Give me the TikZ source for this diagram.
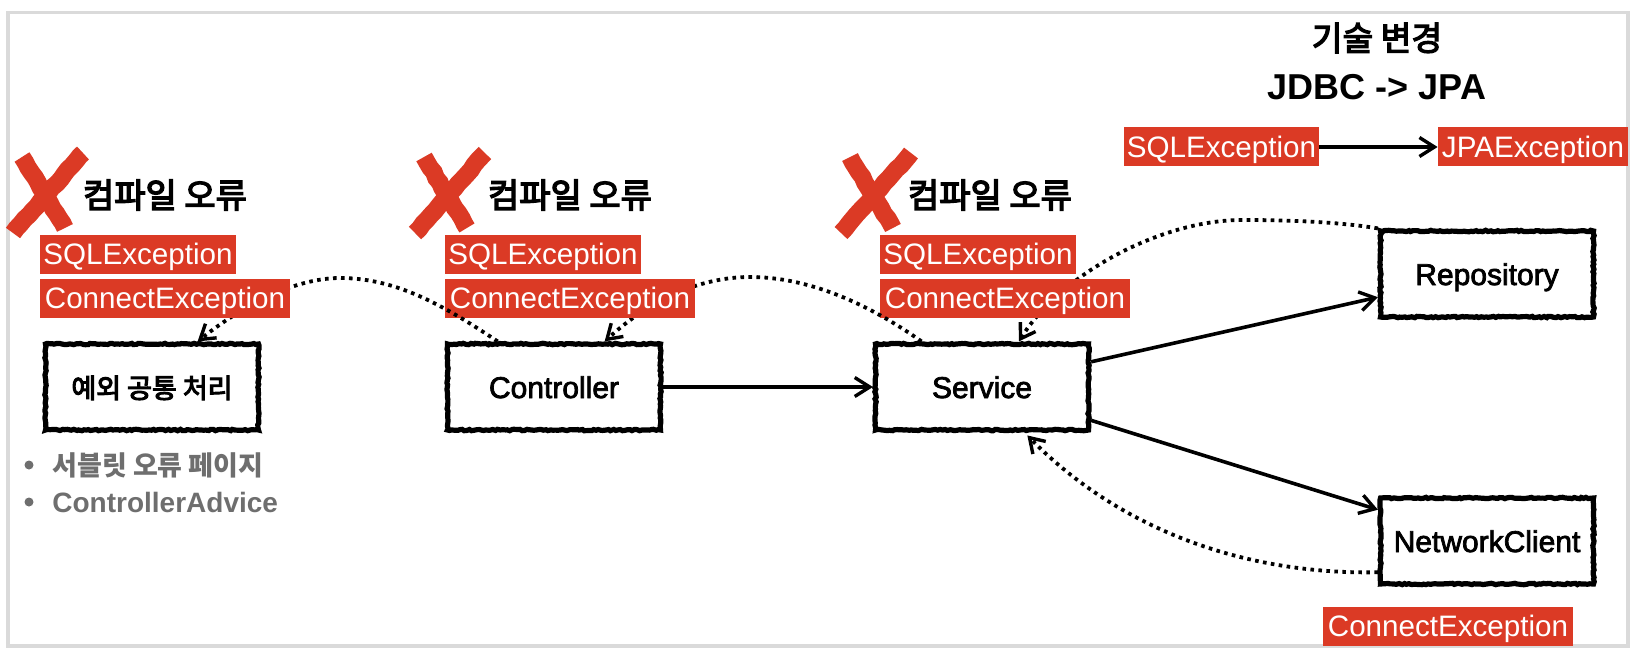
\documentclass[tikz,border=0pt]{standalone}
\usepackage{fontspec}
\setmainfont{Liberation Sans}
\newfontfamily\krfont{Noto Sans CJK KR}
\newfontfamily\krmedfont[FakeBold=4]{Noto Sans CJK KR}
\newfontfamily\boxfont[FakeBold=2.5]{Liberation Sans}
\usetikzlibrary{arrows.meta,decorations.pathmorphing}
\definecolor{tagred}{HTML}{DB3A25}
\definecolor{notegray}{HTML}{6E6E6E}
\definecolor{framegray}{HTML}{DADADA}
\tikzset{
  tag/.style={fill=tagred,text=white,inner xsep=0pt,inner ysep=0pt,minimum height=19.5pt,
    text height=12.1pt,text depth=1.7pt,font=\fontsize{14.8}{16}\selectfont},
  sketchbox/.style={draw=black,fill=white,line width=2.6pt,minimum width=106.5pt,minimum height=43pt,
    text height=11pt,text depth=0pt,
    decorate,decoration={random steps,segment length=1.2pt,amplitude=0.35pt},
    font=\boxfont\fontsize{15}{18}\selectfont},
  flow/.style={line width=1.8pt,-{Straight Barb[length=7.5pt,width=9.5pt,line width=1.7pt]}},
  back/.style={line width=1.9pt,dash pattern=on 1.8pt off 2.2pt,-{Straight Barb[length=7pt,width=9pt,line width=1.7pt]}},
  crossmark/.style={draw=tagred,line width=8.8pt,decorate,decoration={random steps,segment length=3pt,amplitude=0.3pt}},
  errlabel/.style={font=\krmedfont\fontsize{17}{20}\selectfont,inner sep=0pt},
  title/.style={font=\bfseries\fontsize{18}{22}\selectfont,inner sep=0pt},
  notetext/.style={text=notegray,anchor=west,inner sep=0pt,font=\bfseries\fontsize{14}{17}\selectfont}
}
\begin{document}
\begin{tikzpicture}[x=0.5pt,y=-0.5pt]
\pgfmathsetseed{7}
\useasboundingbox (0,0) rectangle (1636,652);
\draw[framegray,line width=1.6pt] (8,12.5) rectangle (1628,646);
% red crosses
\foreach \dx in {0,402,828}
{
  \draw[crossmark] (22+\dx,157) -- (65+\dx,228);
  \draw[crossmark] (13+\dx,233) -- (83+\dx,153);
}
% boxes
\node[sketchbox] (common) at (152,387) {\krmedfont\fontsize{13.5}{16}\selectfont 예외 공통 처리};
\node[sketchbox] (controller) at (554,387) {Controller};
\node[sketchbox] (service) at (982,387) {Service};
\node[sketchbox] (repository) at (1487,274) {Repository};
\node[sketchbox] (client) at (1487,541) {NetworkClient};
% solid arrows
\draw[flow] (controller.east) -- (service.west);
\draw[flow] (service.13.5) -- (repository.192);
\draw[flow] (service.-17.5) -- (client.164);
% the dotted returns pass over one column of tags and under the next
\draw[back] (repository.north west) .. controls (1340,222) and (1290,220) .. (1242,220)
  .. controls (1160,220) and (1060,275) .. (service.51);
\node[tag,minimum width=98pt] at (978,254) {SQLException};
\node[tag,minimum width=125pt] at (1005,298) {ConnectException};
\draw[back] (service.143) .. controls (870,305) and (810,277) .. (750,277)
  .. controls (700,277) and (650,300) .. (controller.42);
\node[tag,minimum width=98pt] at (543,254) {SQLException};
\node[tag,minimum width=125pt] at (570,298) {ConnectException};
\draw[back] (controller.141) .. controls (450,310) and (400,278) .. (340,278)
  .. controls (300,278) and (250,300) .. (common.45);
\node[tag,minimum width=98pt] at (138,254) {SQLException};
\node[tag,minimum width=125pt] at (165,298) {ConnectException};
\draw[back,shorten >=2pt] (client.196) .. controls (1230,575) and (1110,520) .. (service.-47);
% labels
\node[errlabel] (errCommon) at (165,195) {컴파일 오류};
\node[errlabel] (errController) at (570,195) {컴파일 오류};
\node[errlabel] (errService) at (990,195) {컴파일 오류};
\node[title] (titleKr) at (1377,38) {\mdseries\krmedfont\fontsize{16.7}{20}\selectfont 기술 변경};
\node[title] (titleEn) at (1377,87) {JDBC -> JPA};
\node[tag,minimum width=97.5pt] (sqlTag) at (1221.5,147) {SQLException};
\node[tag,minimum width=95pt] (jpaTag) at (1533,147) {JPAException};
\draw[flow] (sqlTag.east) -- (jpaTag.west);
\node[tag,minimum width=125pt] (clientTag) at (1448,626.5) {ConnectException};
% notes under the first box
\fill[notegray] (29,465) circle [radius=4.5];
\fill[notegray] (29,502) circle [radius=4.5];
\node[notetext,font=\krfont\bfseries\fontsize{13.5}{18}\selectfont] (noteErr) at (52,465) {서블릿 오류 페이지};
\node[notetext] (noteAdvice) at (52,502) {ControllerAdvice};
\end{tikzpicture}
\end{document}
